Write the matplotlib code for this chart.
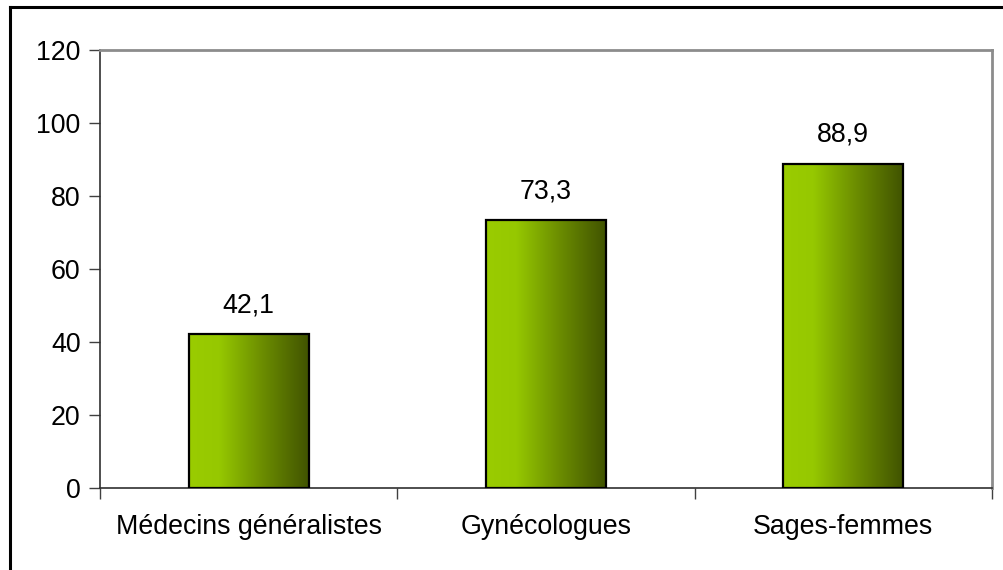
import numpy as np
import matplotlib.pyplot as plt
from matplotlib.patches import Rectangle
from matplotlib.colors import LinearSegmentedColormap
from matplotlib.lines import Line2D

plt.rcParams['font.family'] = ['Liberation Sans', 'DejaVu Sans']

# Data
categories = ['Médecins généralistes', 'Gynécologues', 'Sages-femmes']
values = [42.1, 73.3, 88.9]
y_ticks = [0, 20, 40, 60, 80, 100, 120]

W, H = 1004, 570
FS = 19.3
fig = plt.figure(figsize=(W / 100, H / 100), dpi=100)

# outer chart border (only left and top visible in the crop)
fig.add_artist(Line2D([10 / W, 10 / W], [0, 1 - 7 / H], color='black', lw=2.2))
fig.add_artist(Line2D([10 / W, 1], [1 - 7 / H, 1 - 7 / H], color='black', lw=2.2))

# plot area
left, right, top, bottom = 100, 992, 50, 488
ax = fig.add_axes([left / W, 1 - bottom / H, (right - left) / W, (bottom - top) / H])

x = np.arange(len(categories))
bar_w = 0.404

grad = LinearSegmentedColormap.from_list(
    'olive', [(0.0, '#9ACC00'), (0.25, '#96C800'), (0.6, '#6C8E00'), (1.0, '#405200')])
gradient = np.linspace(0, 1, 256).reshape(1, -1)

for xi, v in zip(x, values):
    rect = Rectangle((xi - bar_w / 2, 0), bar_w, v, facecolor='none',
                     edgecolor='black', lw=1.6, zorder=3)
    ax.add_patch(rect)
    im = ax.imshow(gradient, cmap=grad, aspect='auto', zorder=2,
                   extent=(xi - bar_w / 2, xi + bar_w / 2, 0, v))
    im.set_clip_path(rect)
    ax.annotate(f'{v:.1f}'.replace('.', ','), (xi, v), xytext=(0, 21),
                textcoords='offset points', ha='center', va='center',
                fontsize=FS, color='black')

ax.set_xlim(-0.5, len(categories) - 0.5)
ax.set_ylim(0, 120)
ax.set_yticks(y_ticks)
ax.set_yticklabels([str(t) for t in y_ticks], fontsize=FS)

# category ticks sit between categories
ax.set_xticks(np.arange(-0.5, len(categories), 1.0))
ax.set_xticklabels([])
ax.set_xticks(x, minor=True)
ax.set_xticklabels(categories, minor=True, fontsize=FS)
ax.tick_params(axis='x', which='minor', length=0, pad=19)
ax.tick_params(axis='x', which='major', length=8, width=1, color='#404040')
ax.tick_params(axis='y', length=8, width=1, color='#404040', pad=6)

for side in ['top', 'right']:
    ax.spines[side].set_color('#8C8C8C')
    ax.spines[side].set_linewidth(2)
for side in ['left', 'bottom']:
    ax.spines[side].set_color('#303030')
    ax.spines[side].set_linewidth(1.2)

fig.savefig('out.png', dpi=100)
